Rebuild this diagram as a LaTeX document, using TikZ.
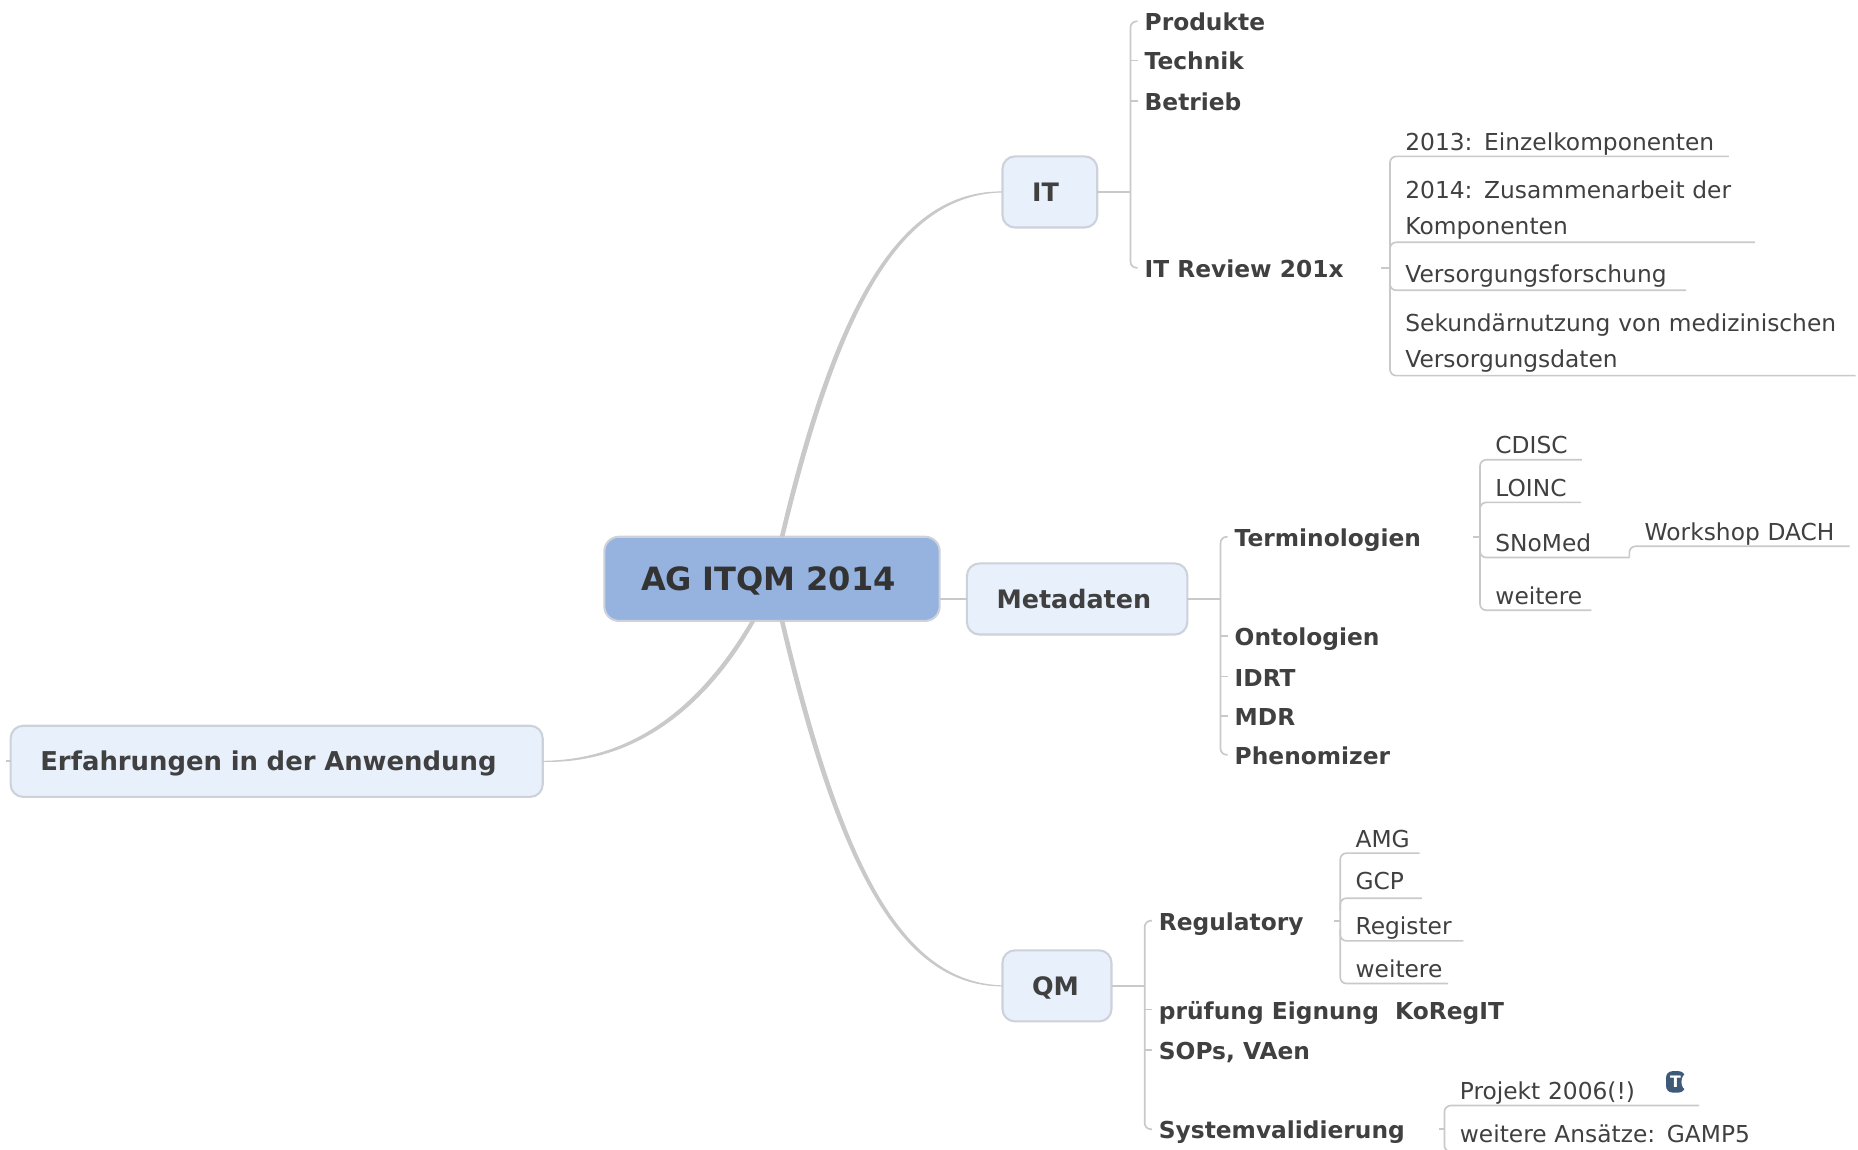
\documentclass[tikz,border=0pt]{standalone}
\usepackage{fontspec}
\setmainfont{DejaVu Sans}
\definecolor{boxfill}{HTML}{E8F0FC}
\definecolor{boxline}{HTML}{CDD1DA}
\definecolor{rootfill}{HTML}{95B3DE}
\definecolor{linegray}{HTML}{C9C9C9}
\definecolor{textgray}{HTML}{404040}
\definecolor{notefill}{HTML}{3F5A78}
\tikzset{
	branch/.style={draw=linegray,line width=0.4pt,rounded corners=1.5pt},
	trunk/.style={draw=linegray,fill=linegray,line width=0.25pt,line join=round},
	topic/.style={anchor=west,inner xsep=.12cm,inner ysep=0,outer sep=0,text height=.16cm,text depth=0,text=textgray,font=\fontsize{5.6}{7}\selectfont\bfseries},
	leaf/.style={anchor=south west,inner xsep=.13cm,inner ysep=0,outer sep=0,text depth=.05cm,text width=#1cm-.26cm,align=left,text=textgray,font=\fontsize{5.6}{8.5}\selectfont},
	twolines/.style={text depth=.07cm+8.5pt},
	mainbox/.style={anchor=west,draw=boxline,fill=boxfill,line width=0.5pt,rounded corners=3pt,inner xsep=.25cm,inner ysep=0,outer sep=0,minimum height=.6cm,text width=#1cm-.5cm,align=left,text height=.16cm,text depth=0,text=textgray,font=\fontsize{6.1}{7}\selectfont\bfseries},
	rootbox/.style={anchor=west,draw=boxline,fill=rootfill,line width=0.5pt,rounded corners=3.5pt,inner xsep=.31cm,inner ysep=0,outer sep=0,minimum height=.71cm,text width=2.21cm,align=left,text height=.2cm,text depth=0,text=textgray!80!black,font=\fontsize{7.7}{9}\selectfont\bfseries},
	notebox/.style={fill=notefill,rounded corners=1.5pt,inner sep=0,outer sep=0,minimum width=.16cm,minimum height=.18cm,text=white,font=\fontsize{3.8}{4}\selectfont\bfseries}
}
\begin{document}
\begin{tikzpicture}
	\useasboundingbox (0,0) rectangle (15.68,9.70);

	\node[rootbox] (root) at (5.10,4.815) {AG ITQM 2014};
	\node[mainbox=.80] (it) at (8.46,8.08) {IT};
	\node[mainbox=1.86] (metadaten) at (8.16,4.645) {Metadaten};
	\node[mainbox=.92] (qm) at (8.46,1.38) {QM};
	\node[mainbox=4.49,font=\fontsize{6.22}{7}\selectfont\bfseries] (erfahrungen) at (.09,3.275) {Erfahrungen in der Anwendung};

	\filldraw[trunk] ([xshift=.07cm]root.north) .. controls (7.04,7.11) and (7.59,8.09) .. (it.west) .. controls (7.59,8.06) and (7.08,7.10) .. ([xshift=.10cm]root.north) -- cycle;
	\filldraw[trunk] ([xshift=.07cm]root.south) .. controls (7.06,2.42) and (7.59,1.38) .. (qm.west) .. controls (7.59,1.405) and (7.10,2.43) .. ([xshift=.10cm]root.south) -- cycle;
	\filldraw[trunk] ([xshift=-.175cm]root.south) .. controls (5.90,3.71) and (5.32,3.28) .. (erfahrungen.east) .. controls (5.32,3.255) and (5.934,3.69) .. ([xshift=-.145cm]root.south) -- cycle;
	\draw[branch] (metadaten.west) -- (metadaten.west -| root.east);
	\draw[branch] (erfahrungen.west) -- ++(-.04,0);

	\node[topic] (produkte) at (9.54,9.52) {Produkte};
	\node[topic] (technik) at (9.54,9.19) {Technik};
	\node[topic] (betrieb) at (9.54,8.85) {Betrieb};
	\node[topic] (review) at (9.54,7.44) {IT Review 201x};
	\draw[branch] (it.east) -- (produkte.west |- it.east);
	\draw[branch] (produkte.west) ++(.06,0) -- (produkte.west) -- (review.west) -- ++(.06,0);
	\draw[branch] (technik.west) -- ++(.06,0);
	\draw[branch] (betrieb.west) -- ++(.06,0);

	\node[leaf=2.86] (einzel) at (11.73,8.38) {\mbox{2013: Einzelkomponenten}};
	\node[leaf=3.08,twolines] (zusammen) at (11.73,7.655) {2014: Zusammenarbeit der\\Komponenten};
	\node[leaf=2.50,text depth=.07cm] (versorgung) at (11.73,7.25) {Versorgungsforschung};
	\node[leaf=3.93,twolines] (sekundaer) at (11.73,6.53) {Sekundärnutzung von medizinischen\\Versorgungsdaten};
	\draw[branch] (review.east) ++(.20,0) -- (einzel.south west |- review.east);
	\draw[branch] (einzel.south east) -- (einzel.south west) -- (sekundaer.south west) -- (sekundaer.south east);
	\draw[branch] (zusammen.south east) -- (zusammen.south west) -- ++(0,-.1);
	\draw[branch] (versorgung.south east) -- (versorgung.south west) -- ++(0,.1);

	\node[topic] (termino) at (10.30,5.17) {Terminologien};
	\node[topic] (onto) at (10.30,4.33) {Ontologien};
	\node[topic] (idrt) at (10.30,3.99) {IDRT};
	\node[topic] (mdr) at (10.30,3.66) {MDR};
	\node[topic] (pheno) at (10.30,3.33) {Phenomizer};
	\draw[branch] (metadaten.east) -- (termino.west |- metadaten.east);
	\draw[branch] (termino.west) ++(.06,0) -- (termino.west) -- (pheno.west) -- ++(.06,0);
	\draw[branch] (onto.west) -- ++(.06,0);
	\draw[branch] (idrt.west) -- ++(.06,0);
	\draw[branch] (mdr.west) -- ++(.06,0);

	\node[leaf=.86] (cdisc) at (12.49,5.82) {CDISC};
	\node[leaf=.85] (loinc) at (12.49,5.46) {LOINC};
	\node[leaf=1.26] (snomed) at (12.49,4.995) {SNoMed};
	\node[leaf=.94] (weitereT) at (12.49,4.55) {weitere};
	\node[leaf=1.86] (workshop) at (13.75,5.09) {\mbox{Workshop DACH}};
	\draw[branch] (termino.east) ++(.32,0) -- (cdisc.south west |- termino.east);
	\draw[branch] (cdisc.south east) -- (cdisc.south west) -- (weitereT.south west) -- (weitereT.south east);
	\draw[branch] (loinc.south east) -- (loinc.south west) -- ++(0,-.1);
	\draw[branch] (snomed.south east) -- (snomed.south west) -- ++(0,.1);
	\draw[branch] (workshop.south east) -- (workshop.south west) -- (snomed.south east);

	\node[topic] (regulatory) at (9.66,1.93) {Regulatory};
	\node[topic] (pruefung) at (9.66,1.18) {prüfung Eignung~ KoRegIT};
	\node[topic] (sops) at (9.66,.84) {SOPs, VAen};
	\node[topic] (system) at (9.66,.17) {Systemvalidierung};
	\draw[branch] (qm.east) -- (regulatory.west |- qm.east);
	\draw[branch] (regulatory.west) ++(.06,0) -- (regulatory.west) -- (system.west) -- ++(.06,0);
	\draw[branch] (pruefung.west) -- ++(.06,0);
	\draw[branch] (sops.west) -- ++(.06,0);

	\node[leaf=.67] (amg) at (11.31,2.50) {AMG};
	\node[leaf=.69,text depth=.07cm] (gcp) at (11.31,2.12) {GCP};
	\node[leaf=1.04] (register) at (11.31,1.76) {Register};
	\node[leaf=.91] (weitereR) at (11.31,1.40) {weitere};
	\draw[branch] (regulatory.east) ++(.14,0) -- (amg.south west |- regulatory.east);
	\draw[branch] (amg.south east) -- (amg.south west) -- (weitereR.south west) -- (weitereR.south east);
	\draw[branch] (gcp.south east) -- (gcp.south west) -- ++(0,-.1);
	\draw[branch] (register.south east) -- (register.south west) -- ++(0,.1);

	\node[leaf=2.15] (projekt) at (12.19,.37) {Projekt 2006(!)};
	\node[leaf=2.70,text depth=.075cm] (gamp) at (12.19,-.02) {\mbox{weitere Ansätze: GAMP5}};
	\node[notebox] (note) at (14.14,.57) {T};
	\fill[white] ([xshift=.02cm]note.east) ellipse (.05 and .07);
	\draw[branch] (system.east) ++(.17,0) -- (projekt.south west |- system.east);
	\draw[branch] (projekt.south east) -- (projekt.south west) -- (gamp.south west) -- (gamp.south east);
\end{tikzpicture}
\end{document}
